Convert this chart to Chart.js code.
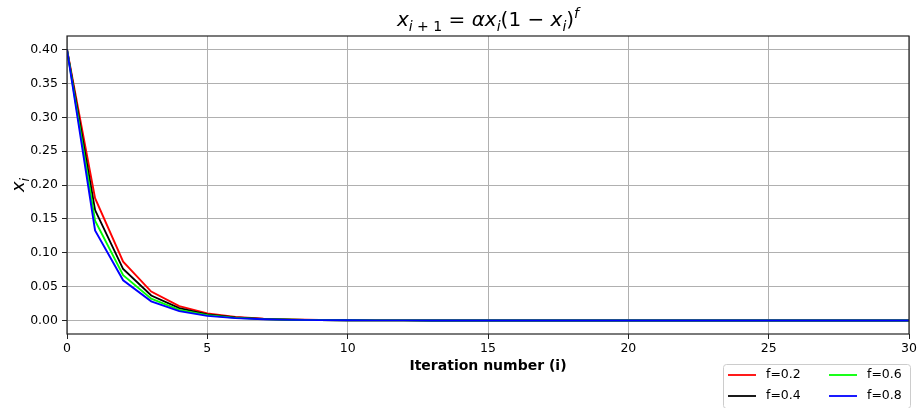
<!DOCTYPE html>
<html>
<head>
<meta charset="utf-8">
<script src="https://cdn.jsdelivr.net/npm/chart.js@4.4.0/dist/chart.umd.min.js"></script>
<style>
    html, body { margin: 0; padding: 0; background: #fff; }
    #wrap { width: 919px; height: 408px; position: relative; }
</style>
</head>
<body>
<div id="wrap"><canvas id="chart" width="919" height="408"></canvas></div>
<script>
const iterations = Array.from({ length: 31 }, (_, i) => i);
const fLabels = ['f=0.2', 'f=0.4', 'f=0.6', 'f=0.8'];
const fColors = ['#ff0000', '#000000', '#00ff00', '#0000ff'];

const seriesF02 = [0.4, 0.1806, 0.0868, 0.0426, 0.0211, 0.01052, 0.00525, 0.00262, 0.00131, 0.00065, 0.00033, 0.00016, 0.00008, 0.00004, 0.00002, 0.00001, 0, 0, 0, 0, 0, 0, 0, 0, 0, 0, 0, 0, 0, 0, 0];
const seriesF04 = [0.4, 0.1630, 0.0759, 0.0368, 0.0181, 0.00899, 0.00448, 0.00224, 0.00112, 0.00056, 0.00028, 0.00014, 0.00007, 0.00003, 0.00002, 0.00001, 0, 0, 0, 0, 0, 0, 0, 0, 0, 0, 0, 0, 0, 0, 0];
const seriesF06 = [0.4, 0.1472, 0.0669, 0.0321, 0.0157, 0.00779, 0.00388, 0.00193, 0.00097, 0.00048, 0.00024, 0.00012, 0.00006, 0.00003, 0.00002, 0.00001, 0, 0, 0, 0, 0, 0, 0, 0, 0, 0, 0, 0, 0, 0, 0];
const seriesF08 = [0.4, 0.1329, 0.0593, 0.0282, 0.0138, 0.00682, 0.00339, 0.00169, 0.00085, 0.00042, 0.00021, 0.00011, 0.00005, 0.00003, 0.00001, 0.00001, 0, 0, 0, 0, 0, 0, 0, 0, 0, 0, 0, 0, 0, 0, 0];
const allSeries = [seriesF02, seriesF04, seriesF06, seriesF08];

const xTicks = [0, 5, 10, 15, 20, 25, 30];
const yTicks = [0, 0.05, 0.10, 0.15, 0.20, 0.25, 0.30, 0.35, 0.40];

const FONT = "'DejaVu Sans', sans-serif";

// draws a run of text pieces (math style) starting at x
function drawPieces(ctx, pieces, x, y, size) {
    pieces.forEach((p) => {
        const s = p.sub || p.sup ? size * 0.7 : size;
        ctx.font = `${p.it ? 'italic ' : ''}${s}px ${FONT}`;
        let dy = 0;
        if (p.sub) dy = size * 0.25;
        if (p.sup) dy = -size * 0.42;
        ctx.fillText(p.t, x, y + dy);
        x += ctx.measureText(p.t).width;
    });
}

function piecesWidth(ctx, pieces, size) {
    return pieces.reduce((w, p) => {
        const s = p.sub || p.sup ? size * 0.7 : size;
        ctx.font = `${p.it ? 'italic ' : ''}${s}px ${FONT}`;
        return w + ctx.measureText(p.t).width;
    }, 0);
}

const titlePieces = [
    { t: 'x', it: true }, { t: 'i', it: true, sub: true }, { t: ' + 1', sub: true },
    { t: ' = ' }, { t: 'α', it: true }, { t: 'x', it: true }, { t: 'i', it: true, sub: true },
    { t: '(1 − ' }, { t: 'x', it: true }, { t: 'i', it: true, sub: true },
    { t: ')' }, { t: 'f', it: true, sup: true }
];

const decorPlugin = {
    id: 'decor',
    afterDatasetsDraw(chart) {
        const { ctx, chartArea: a } = chart;
        ctx.save();
        // frame
        ctx.strokeStyle = '#222';
        ctx.lineWidth = 1.2;
        ctx.strokeRect(a.left, a.top, a.right - a.left, a.bottom - a.top);

        ctx.fillStyle = '#000';
        ctx.textBaseline = 'alphabetic';
        ctx.textAlign = 'left';

        // title
        const tSize = 20;
        const tw = piecesWidth(ctx, titlePieces, tSize);
        drawPieces(ctx, titlePieces, (a.left + a.right) / 2 - tw / 2, 26, tSize);

        // y label
        ctx.save();
        ctx.translate(24, 185);
        ctx.rotate(-Math.PI / 2);
        const yl = [{ t: 'x', it: true }, { t: 'i', it: true, sub: true }];
        const yw = piecesWidth(ctx, yl, 18);
        drawPieces(ctx, yl, -yw / 2, 0, 18);
        ctx.restore();

        // x label
        ctx.font = `bold 14px ${FONT}`;
        ctx.textAlign = 'center';
        ctx.textBaseline = 'middle';
        ctx.fillText('Iteration number (i)', (a.left + a.right) / 2, 366);

        // legend (two columns, column-major like matplotlib)
        const lx = 723, ly = 364, lw = 187, lh = 44;
        ctx.fillStyle = 'rgba(255,255,255,0.8)';
        ctx.strokeStyle = '#cccccc';
        ctx.lineWidth = 1;
        ctx.beginPath();
        ctx.roundRect(lx + 0.5, ly + 0.5, lw, lh, 3);
        ctx.fill();
        ctx.stroke();
        ctx.font = `12.5px ${FONT}`;
        ctx.textAlign = 'left';
        ctx.textBaseline = 'middle';
        chart.data.datasets.forEach((ds, i) => {
            const col = Math.floor(i / 2);
            const row = i % 2;
            const x0 = lx + 5 + col * 101;
            const y0 = ly + 11 + row * 21;
            ctx.strokeStyle = ds.borderColor;
            ctx.lineWidth = 1.8;
            ctx.beginPath();
            ctx.moveTo(x0, y0);
            ctx.lineTo(x0 + 28, y0);
            ctx.stroke();
            ctx.fillStyle = '#000';
            ctx.fillText(ds.label, x0 + 38, y0);
        });
        ctx.restore();
    }
};

const datasets = allSeries.map((values, i) => ({
    label: fLabels[i],
    data: values,
    borderColor: fColors[i],
    backgroundColor: fColors[i],
    borderWidth: 1.9,
    pointRadius: 0,
    tension: 0,
    fill: false,
    order: allSeries.length - i
}));

new Chart(document.getElementById('chart'), {
    type: 'line',
    data: { labels: iterations, datasets },
    plugins: [decorPlugin],
    options: {
        responsive: false,
        animation: false,
        layout: { padding: { left: 0, right: 10, top: 36, bottom: 0 } },
        plugins: { legend: { display: false }, tooltip: { enabled: false }, title: { display: false } },
        scales: {
            x: {
                type: 'linear',
                min: 0,
                max: 30,
                afterBuildTicks: (scale) => { scale.ticks = xTicks.map((v) => ({ value: v })); },
                afterFit: (scale) => { scale.height = 74; },
                grid: { color: '#b0b0b0', lineWidth: 1, tickLength: 5, tickColor: '#222' },
                border: { display: false },
                ticks: {
                    color: '#000',
                    font: { family: FONT, size: 12.5 },
                    padding: 2,
                    maxRotation: 0,
                    callback: (v) => String(v)
                }
            },
            y: {
                min: -0.02,
                max: 0.42,
                afterBuildTicks: (scale) => { scale.ticks = yTicks.map((v) => ({ value: v })); },
                afterFit: (scale) => { scale.width = 67; },
                grid: { color: '#b0b0b0', lineWidth: 1, tickLength: 5, tickColor: '#222' },
                border: { display: false },
                ticks: {
                    color: '#000',
                    font: { family: FONT, size: 12.5 },
                    padding: 4,
                    callback: (v) => v.toFixed(2)
                }
            }
        }
    }
});
</script>
</body>
</html>
